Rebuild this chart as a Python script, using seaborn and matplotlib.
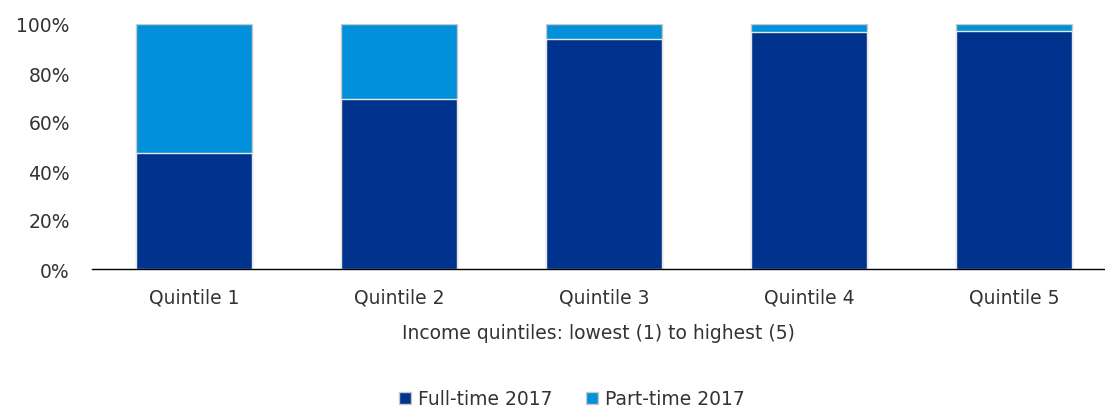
import matplotlib
matplotlib.use("Agg")
import matplotlib.pyplot as plt
import seaborn as sns
import pandas as pd
from matplotlib.patches import Patch

categories = ["Quintile 1", "Quintile 2", "Quintile 3", "Quintile 4", "Quintile 5"]
full_time = [47.3, 69.4, 94.0, 96.6, 97.1]
part_time = [52.7, 30.6, 6.0, 3.4, 2.9]
series_names = ["Full-time 2017", "Part-time 2017"]
y_ticks = [0, 20, 40, 60, 80, 100]

dark = "#00338D"
light = "#0091DA"
text_color = "#333333"

sns.set_theme(style="white")
plt.rcParams["font.family"] = ["DejaVu Sans"]

df = pd.DataFrame({"cat": categories, "full": full_time,
                   "total": [f + p for f, p in zip(full_time, part_time)]})

fig = plt.figure(figsize=(11.05, 4.10), dpi=100)
ax = fig.add_axes([92 / 1105, 1 - 270 / 410, 1 - 92 / 1105, 245 / 410])

sns.barplot(data=df, x="cat", y="total", color=light, saturation=1, width=0.566,
            edgecolor="#c8c8c8", linewidth=1, ax=ax)
sns.barplot(data=df, x="cat", y="full", color=dark, saturation=1, width=0.566,
            edgecolor="#e8e8e8", linewidth=1, ax=ax)

ax.set_ylim(0, 100)
ax.set_xlim(-0.4976, 4.444)
ax.set_yticks(y_ticks)
ax.set_yticklabels([f"{t}%" for t in y_ticks])
ax.tick_params(axis="both", length=0, labelsize=13.5, colors=text_color)
ax.tick_params(axis="x", pad=13)
ax.tick_params(axis="y", pad=16)
for s in ["top", "right", "left"]:
    ax.spines[s].set_visible(False)
ax.spines["bottom"].set_color("black")
ax.spines["bottom"].set_linewidth(1)
ax.set_ylabel("")
ax.set_xlabel("Income quintiles: lowest (1) to highest (5)", fontsize=13.5,
              color=text_color, labelpad=12)

handles = [Patch(facecolor=dark, edgecolor="#c8c8c8"), Patch(facecolor=light, edgecolor="#c8c8c8")]
fig.legend(handles, series_names, loc="center", bbox_to_anchor=(572 / 1105, 1 - 400 / 410),
           ncol=2, frameon=False, fontsize=13.5, handlelength=0.6, handleheight=0.6,
           handletextpad=0.4, columnspacing=1.8, labelcolor=text_color)

fig.savefig("out.png", dpi=100)
